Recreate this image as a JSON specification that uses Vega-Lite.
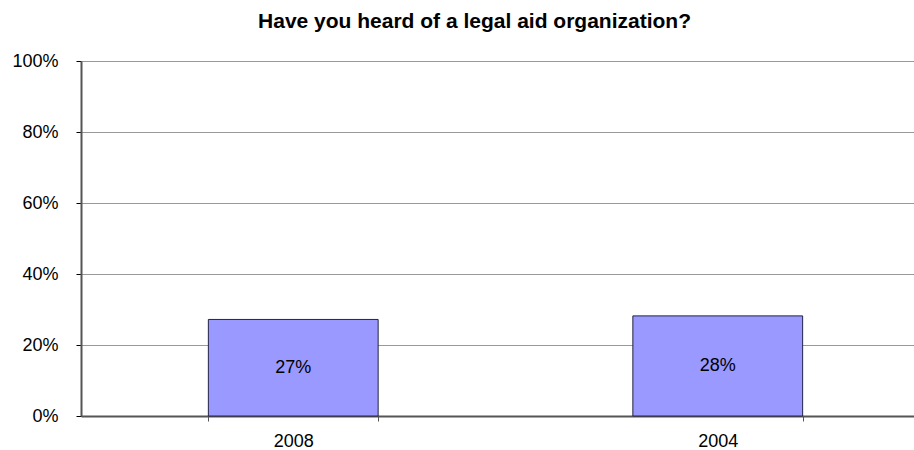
{
  "$schema": "https://vega.github.io/schema/vega-lite/v6.json",
  "width": 833,
  "height": 355,
  "autosize": {"type": "none"},
  "padding": {"left": 81, "top": 61, "right": 0, "bottom": 34},
  "background": "white",
  "config": {
    "view": {"stroke": null},
    "font": "Liberation Sans"
  },
  "title": {
    "text": "Have you heard of a legal aid organization?",
    "font": "Liberation Sans",
    "fontSize": 21,
    "fontWeight": "bold",
    "color": "#000000",
    "anchor": "middle",
    "baseline": "alphabetic",
    "offset": 24,
    "dx": -23,
    "dy": 21
  },
  "data": {
    "values": [
      {"year": "2008", "pct": 0.272},
      {"year": "2004", "pct": 0.282}
    ]
  },
  "transform": [{"calculate": "datum.pct / 2", "as": "mid"}],
  "encoding": {
    "x": {
      "field": "year",
      "type": "nominal",
      "sort": ["2008", "2004"],
      "scale": {"paddingInner": 0.6, "paddingOuter": 0.3, "range": [0, 849]},
      "axis": {
        "title": null,
        "labelAngle": 0,
        "labelFontSize": 18,
        "labelColor": "#000000",
        "labelPadding": 11,
        "labelBaseline": "top",
        "tickBand": "extent",
        "tickSize": 5,
        "tickColor": "#555555",
        "domainColor": "#555555",
        "domainWidth": 2,
        "grid": false
      }
    }
  },
  "layer": [
    {
      "mark": {"type": "bar", "fill": "#9999FF", "stroke": "#222244", "strokeWidth": 1},
      "encoding": {
        "y": {
          "field": "pct",
          "type": "quantitative",
          "scale": {"domain": [0, 1], "nice": false},
          "axis": {
            "title": null,
            "format": ".0%",
            "values": [0, 0.2, 0.4, 0.6, 0.8, 1],
            "labelFontSize": 18,
            "labelColor": "#000000",
            "labelPadding": 18,
            "tickSize": 5,
            "tickColor": "#000000",
            "domainColor": "#555555",
            "domainWidth": 2,
            "grid": true,
            "gridColor": "#999999",
            "gridWidth": 1
          }
        }
      }
    },
    {
      "mark": {"type": "text", "fontSize": 18, "color": "#000000", "baseline": "middle"},
      "encoding": {
        "y": {"field": "mid", "type": "quantitative"},
        "text": {"field": "pct", "type": "quantitative", "format": ".0%"}
      }
    }
  ]
}
